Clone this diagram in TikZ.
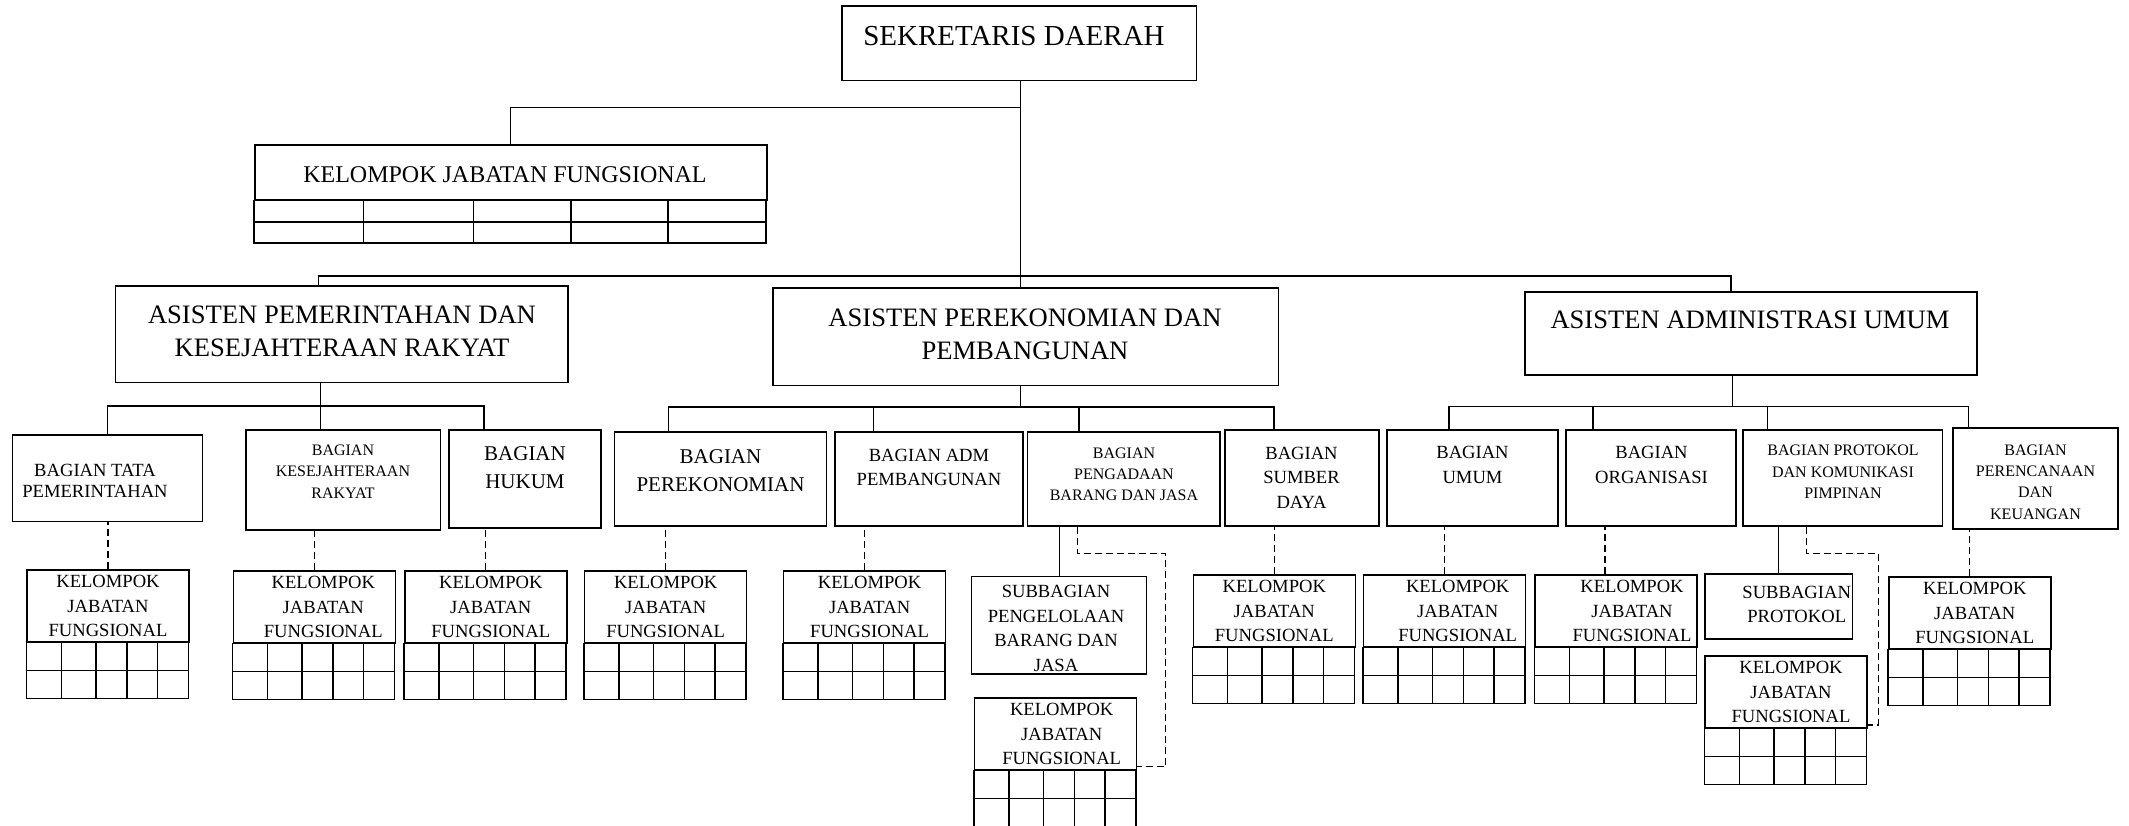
\documentclass[tikz,border=0pt]{standalone}
\usepackage{fontspec}
\setmainfont{Liberation Serif}
\usetikzlibrary{calc}

\begin{document}
\begin{tikzpicture}[x=1pt,y=-1pt,
  frame/.style={draw,line width=1.5pt,inner sep=0pt},
  link/.style={line width=1.2pt},
  dlink/.style={line width=1.1pt,dash pattern=on 7pt off 4pt},
  txtXL/.style={font=\fontsize{29}{34}\selectfont,align=center,inner sep=0pt},
  txtL/.style={font=\fontsize{26.6}{33}\selectfont,align=center,inner sep=0pt},
  txtK/.style={font=\fontsize{24}{28}\selectfont,align=center,inner sep=0pt},
  txtMa/.style={font=\fontsize{21}{28}\selectfont,align=center,inner sep=0pt},
  txtM/.style={font=\fontsize{18.6}{24.5}\selectfont,align=center,inner sep=0pt},
  txtS/.style={font=\fontsize{16}{21.3}\selectfont,align=center,inner sep=0pt}]
\useasboundingbox (0,0) rectangle (2129,825);

% top level
\node[frame,minimum width=354.6pt,minimum height=74.7pt] (sekda) at (1019.3,43.35) {};
\node[txtXL] (sekda-t) at (1014,36.5) {SEKRETARIS DAERAH};

\node[frame,minimum width=512pt,minimum height=55pt,anchor=north west] (kjfTop) at (254,144) {};
\node[txtK] (kjfTop-t) at (505,175) {KELOMPOK JABATAN FUNGSIONAL};
\draw[frame] (kjfTop.south west) rectangle ++(512,42.5);
\draw[frame] (kjfTop.south west) ++(0,21.5) -- ++(512,0);
\foreach \c in {109.4,219.5,317,414}
  \draw[frame] (kjfTop.south west) ++(\c,0) -- ++(0,42.5);

% asisten
\node[frame,minimum width=452.3pt,minimum height=96.7pt] (pem) at (341.85,334.35) {};
\node[txtL] (pem-t) at (342,331.5) {ASISTEN PEMERINTAHAN DAN\\KESEJAHTERAAN RAKYAT};
\node[frame,minimum width=505.5pt,minimum height=97.7pt] (ekon) at (1025.75,336.85) {};
\node[txtL] (ekon-t) at (1025,334) {ASISTEN PEREKONOMIAN DAN\\PEMBANGUNAN};
\node[frame,minimum width=452pt,minimum height=83pt] (adm) at (1751,333.5) {};
\node[txtL] (adm-t) at (1750,320) {ASISTEN ADMINISTRASI UMUM};

% bagian
\node[frame,minimum width=190pt,minimum height=86.5pt] (tata) at (107.7,478.25) {};
\node[txtM,font=\fontsize{18.6}{21.7}\selectfont] (tata-t) at (95,480.8) {BAGIAN TATA\\PEMERINTAHAN};
\node[frame,minimum width=194.5pt,minimum height=100pt] (kesej) at (343.25,480) {};
\node[txtS] (kesej-t) at (343,471.4) {BAGIAN\\KESEJAHTERAAN\\RAKYAT};
\node[frame,minimum width=152pt,minimum height=98pt] (hukum) at (525,479) {};
\node[txtMa] (hukum-t) at (525,468) {BAGIAN\\HUKUM};
\node[frame,minimum width=211.9pt,minimum height=94pt] (ekonB) at (720.45,479) {};
\node[txtMa] (ekonB-t) at (720.5,471) {BAGIAN\\PEREKONOMIAN};
\node[frame,minimum width=188pt,minimum height=94pt] (admB) at (928.8,479) {};
\node[txtM] (admB-t) at (929,467.5) {BAGIAN ADM\\PEMBANGUNAN};
\node[frame,minimum width=192.3pt,minimum height=94pt] (brg) at (1123.85,479) {};
\node[txtS] (brg-t) at (1124,474.3) {BAGIAN\\PENGADAAN\\BARANG DAN JASA};
\node[frame,minimum width=154.2pt,minimum height=96pt] (sda) at (1301.9,478) {};
\node[txtM] (sda-t) at (1301.5,477.7) {BAGIAN\\SUMBER\\DAYA};
\node[frame,minimum width=171pt,minimum height=96pt] (umum) at (1472.5,478) {};
\node[txtM] (umum-t) at (1472.5,465) {BAGIAN\\UMUM};
\node[frame,minimum width=170pt,minimum height=96pt] (org) at (1651,478) {};
\node[txtM] (org-t) at (1651.5,465) {BAGIAN\\ORGANISASI};
\node[frame,minimum width=199.6pt,minimum height=96pt] (prot) at (1842.8,478) {};
\node[txtS] (prot-t) at (1843,471.7) {BAGIAN PROTOKOL\\DAN KOMUNIKASI\\PIMPINAN};
\node[frame,minimum width=165pt,minimum height=101pt] (peren) at (2035.5,478.5) {};
\node[txtS] (peren-t) at (2035.5,482) {BAGIAN\\PERENCANAAN\\DAN\\KEUANGAN};

% subbagian
\node[frame,minimum width=175pt,minimum height=97.3pt] (subBrg) at (1059.2,625.35) {};
\node[txtM] (subBrg-t) at (1056,628.3) {SUBBAGIAN\\PENGELOLAAN\\BARANG DAN\\JASA};
\node[frame,minimum width=147.3pt,minimum height=65pt] (subProt) at (1778.65,606.5) {};
\node[txtM,font=\fontsize{18.6}{24}\selectfont] (subProt-t) at (1796.7,604.7) {SUBBAGIAN\\PROTOKOL};

% kelompok jabatan fungsional
\foreach \nm/\x/\y/\dx in {kjfTata/108/569/0,kjfKesej/314.3/570/9,kjfHukum/485.8/570/5,
  kjfEkon/665.7/570/0,kjfAdm/864.6/570/5,kjfBrg/1055.7/697/6,kjfSda/1274.3/574/0,
  kjfUmum/1444.7/574/13,kjfOrg/1616/574/16,kjfProt/1786/655/5,kjfRen/1969.8/576/5}{
  \node[frame,minimum width=162pt,minimum height=72pt,anchor=north] (\nm) at (\x,\y) {};
  \node[txtM] (\nm-t) at ([xshift=\dx,yshift=-37]\nm.north) {KELOMPOK\\JABATAN\\FUNGSIONAL};
  \draw[frame] (\nm.south west) rectangle ++(162,56);
  \draw[frame] (\nm.south west) ++(0,28) -- ++(162,0);
  \foreach \c in {35,69.5,100.5,131}
    \draw[frame] (\nm.south west) ++(\c,0) -- ++(0,56);
}

% lines
\coordinate (s1) at (1020.7,107.7);
\coordinate (s2) at (1020.7,276);
\draw[link] (sekda.south -| s1) -- (s1 |- ekon.north);
\draw[link] (kjfTop.north) |- (s1);
\draw[link] ([xshift=-23]pem.north) |- (s2) -| ([xshift=-20]adm.north);

\coordinate (pa) at (107.7,406);
\coordinate (pb) at (320.6,406);
\coordinate (pc) at (484,406);
\draw[link] (pa |- tata.north) -- (pa) -- (pc) -- (pc |- hukum.north);
\draw[link] (pem.south -| pb) -- (pb |- kesej.north);

\coordinate (ea) at (668.5,407);
\coordinate (eb) at (873.4,407);
\coordinate (ec) at (1079,407);
\coordinate (ed) at (1274,407);
\draw[link] (ea |- ekonB.north) -- (ea) -- (ed) -- (ed |- sda.north);
\draw[link] (eb) -- (eb |- admB.north);
\draw[link] (ec) -- (ec |- brg.north);
\draw[link] (ekon.south -| s1) -- (s1 |- ea);

\coordinate (ua) at (1449,406.7);
\coordinate (ub) at (1593,406.7);
\coordinate (uc) at (1767.8,406.7);
\coordinate (ud) at (1968.8,406.7);
\draw[link] (ua |- umum.north) -- (ua) -- (ud) -- (ud |- peren.north);
\draw[link] (ub) -- (ub |- org.north);
\draw[link] (uc) -- (uc |- prot.north);
\draw[link] ([xshift=-18.3]adm.south) -- ([xshift=-18.3]adm.south |- ua);

% dashed
\foreach \k/\b in {kjfTata/tata,kjfKesej/kesej,kjfHukum/hukum,kjfEkon/ekonB,kjfAdm/admB,
  kjfSda/sda,kjfUmum/umum,kjfRen/peren}
  \draw[dlink] (\k.north) -- (\k.north |- \b.south);
\draw[dlink] ([xshift=-11]kjfOrg.north) -- ([xshift=-11]kjfOrg.north |- org.south);

\draw[link] (subBrg.north) -- (subBrg.north |- brg.south);
\coordinate (g1) at (1077.5,553.3);
\coordinate (g2) at (1165.7,766.7);
\draw[dlink] (g1 |- brg.south) -- (g1) -| (g2) -- (g2 -| kjfBrg.east);

\draw[link] (subProt.north) -- (subProt.north |- prot.south);
\coordinate (h1) at (1806.7,553.3);
\coordinate (h2) at (1878.3,725);
\draw[dlink] (h1 |- prot.south) -- (h1) -| (h2) -- (h2 -| kjfProt.east);

\end{tikzpicture}
\end{document}
